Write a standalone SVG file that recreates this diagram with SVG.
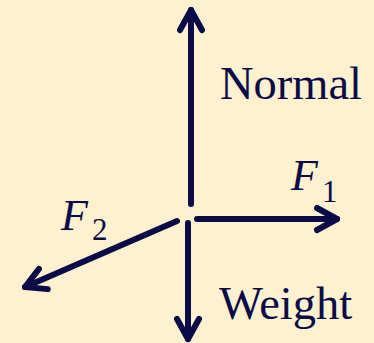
<svg xmlns="http://www.w3.org/2000/svg" width="374" height="343" viewBox="0 0 374 343">
  <style>
    .force { fill: none; stroke: #0b0b47; stroke-width: 6; stroke-linecap: round; stroke-linejoin: round; }
    .head { fill: none; stroke: #0b0b47; stroke-width: 6; stroke-linecap: round; stroke-linejoin: round; }
    .word { font-family: "Liberation Serif", "Times New Roman", serif; font-size: 46.5px; fill: #0b0b47; }
    .var { font-family: "Liberation Serif", "Times New Roman", serif; font-style: italic; font-size: 44px; fill: #0b0b47; }
    .sub { font-family: "Liberation Serif", "Times New Roman", serif; font-size: 31px; fill: #0b0b47; }
  </style>
  <defs>
    <marker id="arrow" markerUnits="userSpaceOnUse" markerWidth="40" markerHeight="40" viewBox="-30 -20 40 40" refX="0" refY="0" orient="auto" overflow="visible">
      <path class="head" d="M-20,-11 L0,0 L-20,11"/>
    </marker>
  </defs>
  <rect x="0" y="0" width="374" height="343" fill="#fdf1d0"/>
  <g id="connectors">
    <line id="normal-force" class="force" x1="191" y1="204" x2="191" y2="10" marker-end="url(#arrow)"/>
    <line id="weight-force" class="force" x1="188" y1="223" x2="188" y2="339" marker-end="url(#arrow)"/>
    <line id="f1-force" class="force" x1="197" y1="219" x2="337" y2="219" marker-end="url(#arrow)"/>
    <line id="f2-force" class="force" x1="177" y1="221" x2="25" y2="287" marker-end="url(#arrow)"/>
  </g>
  <g id="label-normal">
    <text class="word" x="220" y="99">Normal</text>
  </g>
  <g id="label-weight">
    <text class="word" x="219" y="319">Weight</text>
  </g>
  <g id="label-f1">
    <text class="var" x="291" y="190">F</text>
    <text class="sub" x="322" y="202">1</text>
  </g>
  <g id="label-f2">
    <text class="var" x="61" y="230">F</text>
    <text class="sub" x="92" y="240">2</text>
  </g>
</svg>
